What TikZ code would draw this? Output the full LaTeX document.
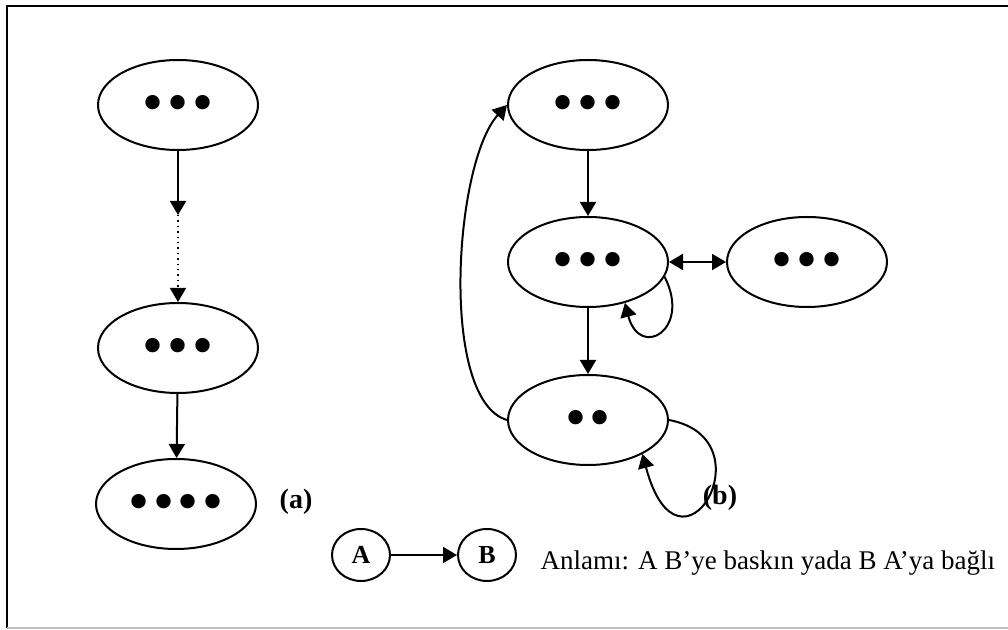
\documentclass[tikz,border=0pt]{standalone}
\usepackage{fontspec}
\setmainfont{Liberation Serif}
\usetikzlibrary{shapes.geometric,arrows.meta}
\newcommand{\benek}[1]{\raisebox{-9pt}{#1}}

\begin{document}
\begin{tikzpicture}[x=0.5pt,y=-0.5pt,line width=1pt,
        >={Triangle[length=7pt,width=8pt]},
        durum/.style={ellipse,draw,minimum width=80pt,minimum height=45pt,inner sep=0pt,text height=0pt,text depth=0pt,font=\fontsize{30}{30}\selectfont},
        harf/.style={ellipse,draw,minimum width=29pt,minimum height=26pt,inner sep=0pt,font=\fontsize{13}{13}\selectfont\bfseries},
        etiket/.style={font=\fontsize{14}{14}\selectfont\bfseries}]
        \useasboundingbox (0,0) rectangle (1008,630);
        % cerceve
        \draw (1008,6) -- (7,6) -- (7,628);
        \draw[gray!50,line width=0.7pt] (7,628) -- (1008,628);
        % (a)
        \node[durum] (a1) at (178,105) {\benek{•\hspace{1.8pt}•\hspace{1.8pt}•}};
        \node[durum] (a2) at (178,348) {\benek{•\hspace{1.8pt}•\hspace{1.8pt}•}};
        \node[durum] (a3) at (176,504) {\benek{•\hspace{1.8pt}•\hspace{1.8pt}•\hspace{1.8pt}•}};
        \coordinate (kesik) at (178,215);
        \draw[->] (a1) -- (kesik);
        \draw[->,dotted,line width=0.7pt] (kesik) -- (a2);
        \draw[->] (a2) -- (a3);
        \node[etiket] (la) at (296,502) {(a)};
        % (b)
        \node[durum] (b1) at (588,105) {\benek{•\hspace{1.8pt}•\hspace{1.8pt}•}};
        \node[durum] (b2) at (588,262) {\benek{•\hspace{1.8pt}•\hspace{1.8pt}•}};
        \node[durum] (b3) at (807,262) {\benek{•\hspace{1.8pt}•\hspace{1.8pt}•}};
        \node[durum] (b4) at (588,420) {\benek{•\hspace{1.8pt}•}};
        \draw[->] (b1) -- (b2);
        \draw[<->] (b2) -- (b3);
        \draw[->] (b2) -- (b4);
        \draw[->] (b2.-11) .. controls +(27,53) and +(15,57) .. (b2.-48);
        \draw[->] (b4.east) .. controls +(102,19) and +(37,140) .. (b4.-32);
        \draw[->] (b4.west) .. controls +(-68,-20) and +(-53,58) .. (b1.west);
        \node[etiket] (lb) at (720,498) {(b)};
        % anlami
        \node[harf] (A) at (361,555) {A};
        \node[harf] (B) at (487,555) {B};
        \draw[->] (A) -- (B);
        \node[anchor=base west,font=\fontsize{13.5}{13.5}\selectfont] (anlam) at (533,570) {Anlamı: A B’ye baskın yada B A’ya bağlı};
\end{tikzpicture}
\end{document}
